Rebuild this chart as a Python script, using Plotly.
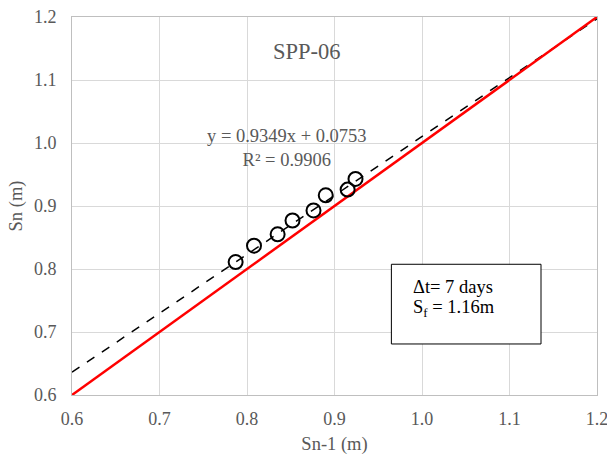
import plotly.graph_objects as go

# Data
sn_prev = [0.787, 0.808, 0.835, 0.852, 0.876, 0.890, 0.915, 0.924]
sn = [0.811, 0.837, 0.855, 0.877, 0.893, 0.917, 0.926, 0.943]
slope = 0.9349
intercept = 0.0753
line_x = [0.6, 1.2]
fit_y = [slope * v + intercept for v in line_x]
ticks = [0.6, 0.7, 0.8, 0.9, 1.0, 1.1, 1.2]
xtick_text = ["0.6", "0.7", "0.8", "0.9", "1.0", "1.1", "1.2"]
ytick_text = ["0.6", "0.7", "0.8", "0.9", "1.0", "1.1", "1.2"]

FONT = "Liberation Serif, Times New Roman, serif"
GRAY = "#595959"

fig = go.Figure()
fig.add_trace(go.Scatter(x=line_x, y=fit_y, mode="lines",
                         line=dict(color="black", width=1.5, dash="dash"),
                         showlegend=False, hoverinfo="skip"))
fig.add_trace(go.Scatter(x=line_x, y=line_x, mode="lines",
                         line=dict(color="#ff0000", width=2.5),
                         showlegend=False, hoverinfo="skip"))
fig.add_trace(go.Scatter(x=sn_prev, y=sn, mode="markers",
                         marker=dict(symbol="circle-open", size=14,
                                     color="black", line=dict(width=2)),
                         showlegend=False))

axis_common = dict(range=[0.6, 1.2], tickvals=ticks, showgrid=True,
                   gridcolor="#d9d9d9", gridwidth=1, zeroline=False,
                   showline=True, linecolor="#bfbfbf", linewidth=1,
                   mirror=True, automargin=False, ticklabeloverflow="allow",
                   ticks="", tickfont=dict(family=FONT, size=18, color=GRAY))
fig.update_xaxes(**axis_common, ticktext=xtick_text, ticklabelstandoff=7,
                 title=dict(text="Sn-1 (m)", font=dict(family=FONT, size=18.5, color=GRAY), standoff=13))
fig.update_yaxes(**axis_common, ticktext=ytick_text, ticklabelstandoff=11,
                 title=dict(text="Sn (m)", font=dict(family=FONT, size=18.5, color=GRAY), standoff=6))

fig.add_annotation(x=0.869, y=1.1455, text="SPP-06", showarrow=False,
                   font=dict(family=FONT, size=22.5, color=GRAY), xref="x", yref="y")
fig.add_annotation(x=0.846, y=0.9926, text="y = 0.9349x + 0.0753<br>R² = 0.9906",
                   showarrow=False, align="center",
                   font=dict(family=FONT, size=18.5, color=GRAY), xref="x", yref="y")

fig.add_shape(type="rect", x0=0.965, x1=1.136, y0=0.681, y1=0.8075,
              line=dict(color="black", width=1), fillcolor="white", layer="above")
fig.add_annotation(x=0.9874, y=0.7715, xanchor="left", yanchor="middle",
                   text="Δt= 7 days", showarrow=False,
                   font=dict(family=FONT, size=18.5, color="black"))
fig.add_annotation(x=0.9874, y=0.7372, xanchor="left", yanchor="middle",
                   text="S<sub>f</sub> = 1.16m", showarrow=False,
                   font=dict(family=FONT, size=18.5, color="black"))

fig.update_layout(width=607, height=455, margin=dict(l=72, r=10, t=17, b=60),
                  paper_bgcolor="white", plot_bgcolor="white")
fig.write_html("out.html")
